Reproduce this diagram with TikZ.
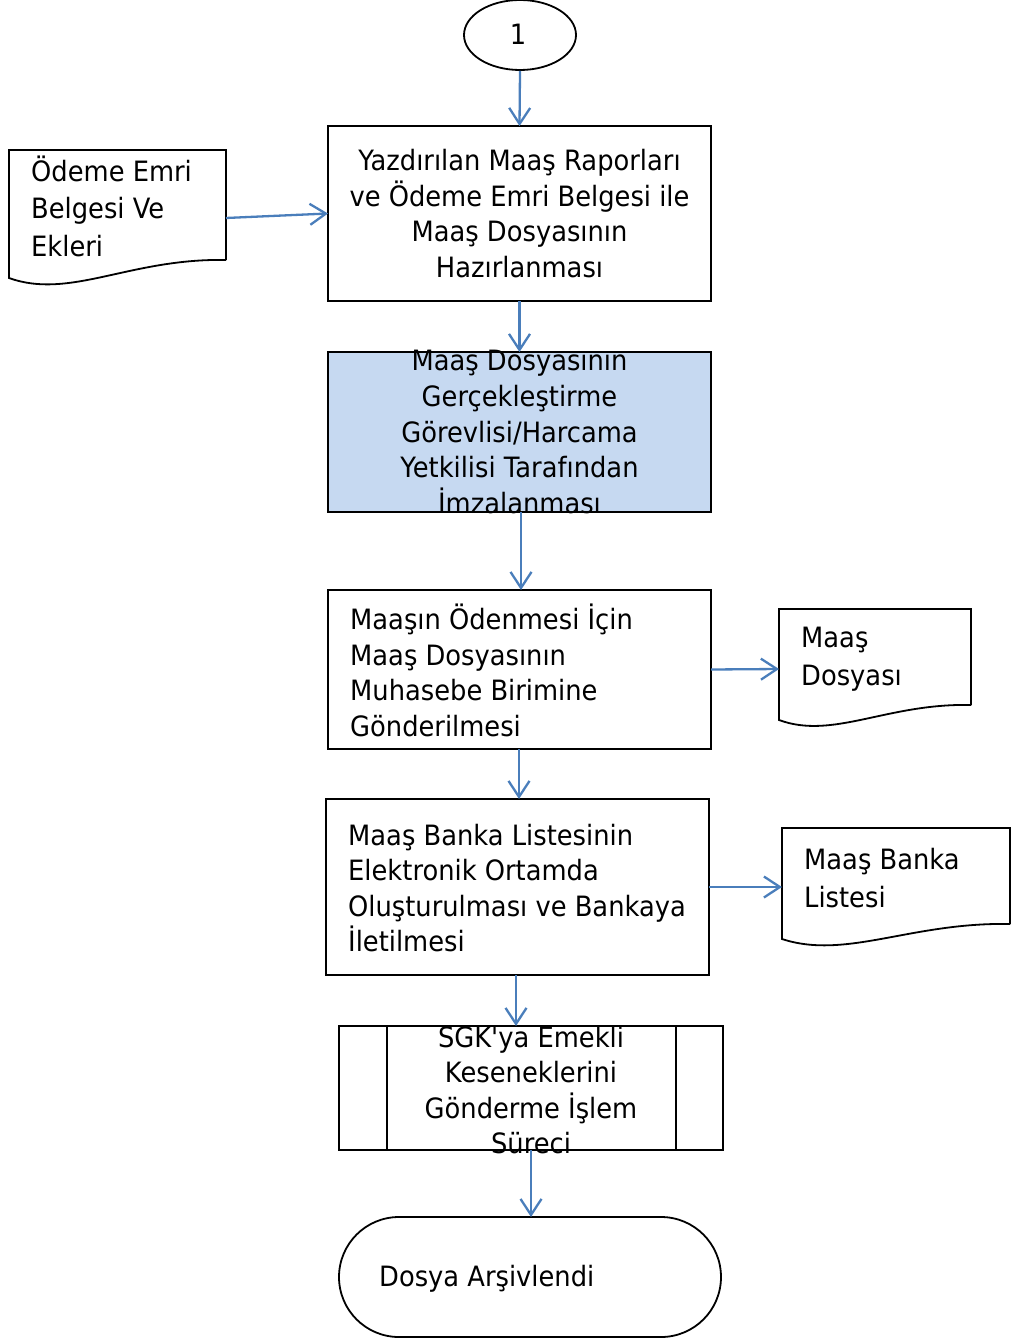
\documentclass[tikz,border=0pt]{standalone}
\usepackage{fontspec}
\setmainfont{DejaVu Sans}[FakeStretch=0.92, Ligatures=TeXOff]
\usetikzlibrary{arrows.meta,shapes.geometric}
\definecolor{arrblue}{HTML}{4A7EBB}
\definecolor{fillblue}{HTML}{C6D9F1}
\begin{document}
\begin{tikzpicture}[x=1pt,y=-1pt,
  blk/.style={draw=black, line width=1.8pt},
  box/.style={blk, inner sep=0pt, outer sep=0pt},
  txt/.style={inner sep=0pt, font=\fontsize{28}{35.6}\selectfont},
  dtxt/.style={inner sep=0pt, align=left, anchor=west, font=\fontsize{28}{37.5}\selectfont},
  arr/.style={draw=arrblue, line width=2.3pt, -{Straight Barb[length=16pt,width=21pt]}},
]
\useasboundingbox (0,0) rectangle (1012,1340);

% start connector
\node[blk, ellipse, minimum width=112pt, minimum height=70pt, inner sep=0pt] (c1) at (520,35) {};
\node[txt] (c1t) at (518,34) {1};

% box 1
\node[box, minimum width=383pt, minimum height=175pt] (b1) at (519.5,213.5) {};
\node[txt, align=center] (t1) at (b1) {Yazdırılan Maaş Raporları\\ve Ödeme Emri Belgesi ile\\Maaş Dosyasının\\Hazırlanması};

% document 1
\draw[blk] (226,260) -- (226,150) -- (9,150) -- (9,278) .. controls (70,300) and (130,258) .. (226,260);
\coordinate (d1e) at (226,218);
\node[dtxt] (d1t) at (31,206) {Ödeme Emri\\Belgesi Ve\\Ekleri};

% box 2
\node[box, fill=fillblue, minimum width=383pt, minimum height=160pt] (b2) at (519.5,432) {};
\node[txt, align=center] (t2) at (b2) {Maaş Dosyasının\\Gerçekleştirme\\Görevlisi/Harcama\\Yetkilisi Tarafından\\İmzalanması};

% box 3
\node[box, minimum width=383pt, minimum height=159pt] (b3) at (519.5,669.5) {};
\node[txt, align=left, anchor=west] (t3) at (350,670.5) {Maaşın Ödenmesi İçin\\Maaş Dosyasının\\Muhasebe Birimine\\Gönderilmesi};

% document 2
\draw[blk] (971,705) -- (971,609) -- (779,609) -- (779,720) .. controls (833,740) and (887,703) .. (971,705);
\coordinate (d2w) at (779,669);
\node[dtxt] (d2t) at (801,659) {Maaş\\Dosyası};

% box 4
\node[box, minimum width=383pt, minimum height=176pt] (b4) at (517.5,887) {};
\node[txt, align=left, anchor=west] (t4) at (348,888) {Maaş Banka Listesinin\\Elektronik Ortamda\\Oluşturulması ve Bankaya\\İletilmesi};

% document 3
\draw[blk] (1010,924) -- (1010,828) -- (782,828) -- (782,939) .. controls (846,960) and (911,922) .. (1010,924);
\coordinate (d3w) at (782,887);
\node[dtxt] (d3t) at (804,878) {Maaş Banka\\Listesi};

% box 5 predefined process
\node[box, minimum width=384pt, minimum height=124pt] (b5) at (531,1088) {};
\draw[blk] ([xshift=48pt]b5.north west) -- ([xshift=48pt]b5.south west);
\draw[blk] ([xshift=-47pt]b5.north east) -- ([xshift=-47pt]b5.south east);
\node[txt, align=center] (t5) at (531,1090) {SGK'ya Emekli\\Keseneklerini\\Gönderme İşlem\\Süreci};

% terminal
\node[box, rounded corners=60pt, minimum width=382pt, minimum height=120pt] (te) at (530,1277) {};
\node[txt, anchor=west] (tet) at (379,1279) {Dosya Arşivlendi};

% connectors
\draw[arr] (c1.south) -- (b1.north);
\draw[arr] (d1e) -- (b1.west);
\draw[arr] (b1.south) -- (b2.north);
\draw[arr] ([xshift=1.5pt]b2.south) -- ([xshift=1.5pt]b3.north);
\draw[arr] (b3.east) -- (d2w);
\draw[arr] ([xshift=-0.5pt]b3.south) -- ([xshift=1.5pt]b4.north);
\draw[arr] (b4.east) -- (d3w);
\draw[arr] ([xshift=-1.5pt]b4.south) -- ([xshift=-1.5pt]b4.south |- b5.north);
\draw[arr] (b5.south) -- (b5.south |- te.north);
\end{tikzpicture}
\end{document}
